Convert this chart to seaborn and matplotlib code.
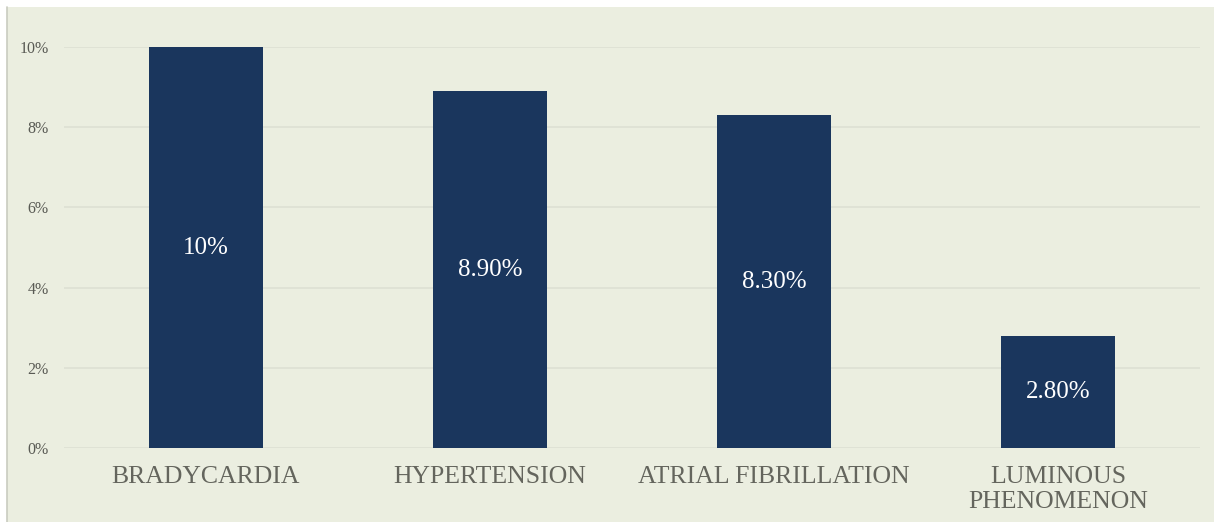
import matplotlib
matplotlib.use("Agg")
import matplotlib.pyplot as plt
import seaborn as sns
import pandas as pd
from matplotlib.patches import Rectangle
from matplotlib.lines import Line2D
from matplotlib.ticker import FuncFormatter, MultipleLocator

categories = ["BRADYCARDIA", "HYPERTENSION", "ATRIAL FIBRILLATION", "LUMINOUS\nPHENOMENON"]
values = [10.0, 8.9, 8.3, 2.8]
value_labels = ["10%", "8.90%", "8.30%", "2.80%"]

bg = "#EBEEE0"
bar_color = "#1A365D"
text_grey = "#64655D"

sns.set_theme(style="white")
plt.rcParams["font.family"] = ["Liberation Serif", "DejaVu Serif"]

fig = plt.figure(figsize=(12.14, 5.22), dpi=100, facecolor="white")
# chart panel with a thin edge on the left, kept behind the axes
fig.add_artist(Rectangle((7 / 1214, 0), 1 - 7 / 1214, 1 - 7 / 522,
                         transform=fig.transFigure, facecolor=bg,
                         edgecolor="none", zorder=-10))
fig.add_artist(Line2D([6.5 / 1214, 6.5 / 1214], [0, 1 - 7 / 522],
                      transform=fig.transFigure, color="#C9CCC0", lw=1.2,
                      zorder=-9))

ax = fig.add_axes([64 / 1214, 1 - 448 / 522, 1136 / 1214, 401 / 522])
ax.set_facecolor("none")

df = pd.DataFrame({"category": categories, "value": values})
sns.barplot(data=df, x="category", y="value", color=bar_color, width=0.4,
            saturation=1, linewidth=0, ax=ax, zorder=3)

ax.set_ylim(0, 10)
ax.set_xlim(-0.5, len(categories) - 0.5)
ax.yaxis.set_major_locator(MultipleLocator(2))
ax.yaxis.set_major_formatter(FuncFormatter(lambda v, _: f"{v:.0f}%"))
ax.grid(axis="y", color="#DCDFD2", lw=1.1, zorder=0)
ax.set_axisbelow(True)
for s in ax.spines.values():
    s.set_visible(False)

ax.set_xlabel("")
ax.set_ylabel("")
ax.tick_params(axis="y", length=0, pad=11, labelsize=11.5, labelcolor="#595A54")
ax.tick_params(axis="x", length=0, pad=13, labelsize=18.5, labelcolor=text_grey)
for t in ax.get_xticklabels():
    t.set_linespacing(1.2)

for patch, label in zip(ax.patches, value_labels):
    cx = patch.get_x() + patch.get_width() / 2
    cy = patch.get_height() / 2
    ax.text(cx, cy, label, ha="center", va="center", color="white",
            fontsize=18, zorder=4)

fig.savefig("out.png", dpi=100, facecolor=fig.get_facecolor())
